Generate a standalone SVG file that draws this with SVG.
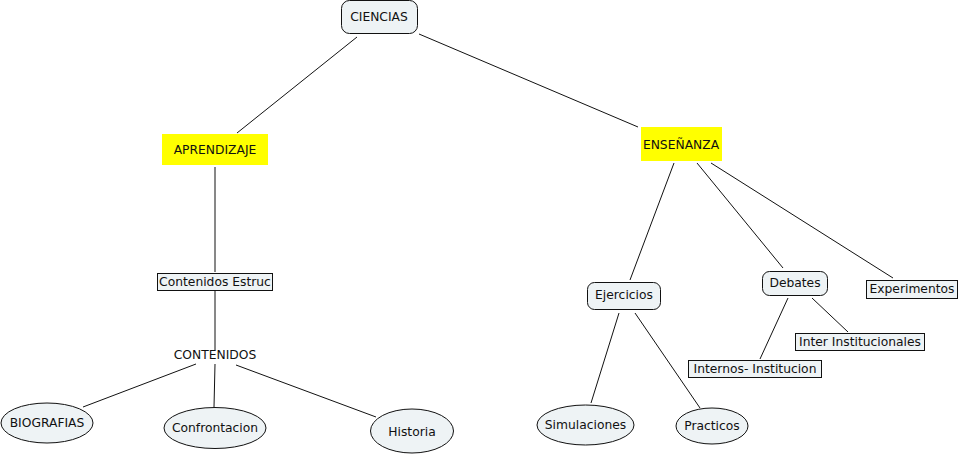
<svg xmlns="http://www.w3.org/2000/svg" width="960" height="456" viewBox="0 0 960 456">
<style>
text{font-family:"DejaVu Sans","Verdana",sans-serif;font-size:12.3px;fill:#111;text-anchor:middle;dominant-baseline:central}
.rr{fill:#eef3f5;stroke:#111;stroke-width:1}
.bx{fill:#eef3f5;stroke:#111;stroke-width:1}
.ye{fill:#ffff00;stroke:none}
.el{fill:#eef3f5;stroke:#111;stroke-width:1}
.c line{stroke:#111;stroke-width:1}
</style>
<rect width="960" height="456" fill="#fff"/>
<g class="c" id="connectors">
<line x1="357" y1="37" x2="237" y2="133"/>
<line x1="419" y1="34" x2="638" y2="127"/>
<line x1="215" y1="167" x2="215" y2="272"/>
<line x1="215" y1="291" x2="215" y2="350"/>
<line x1="196" y1="364" x2="83" y2="407"/>
<line x1="215" y1="364" x2="214" y2="407"/>
<line x1="236" y1="365" x2="376" y2="417"/>
<line x1="674" y1="163" x2="630" y2="280"/>
<line x1="697" y1="163" x2="783" y2="268"/>
<line x1="711" y1="163" x2="893" y2="278"/>
<line x1="619" y1="313" x2="591" y2="403"/>
<line x1="635" y1="313" x2="700" y2="408"/>
<line x1="788" y1="298" x2="760" y2="359"/>
<line x1="812" y1="298" x2="848" y2="332"/>
</g>
<g id="ciencias"><rect class="rr" x="341.5" y="0.5" width="76" height="33" rx="8"/><text x="379" y="17">CIENCIAS</text></g>
<g id="aprendizaje"><rect class="ye" x="162" y="134" width="106" height="31"/><text x="215" y="150">APRENDIZAJE</text></g>
<g id="ensenanza"><rect class="ye" x="641" y="127" width="81" height="34"/><text x="681" y="145">ENSEÑANZA</text></g>
<g id="contenidos-estruc"><rect class="bx" x="157.5" y="273.5" width="115" height="17"/><text x="215" y="282">Contenidos Estruc</text></g>
<g id="contenidos"><text x="215" y="355">CONTENIDOS</text></g>
<g id="biografias"><ellipse class="el" cx="47" cy="423" rx="46" ry="20"/><text x="47" y="423">BIOGRAFIAS</text></g>
<g id="confrontacion"><ellipse class="el" cx="215" cy="428" rx="51" ry="20.5"/><text x="215" y="428">Confrontacion</text></g>
<g id="historia"><ellipse class="el" cx="412" cy="431" rx="41.5" ry="22"/><text x="412" y="432">Historia</text></g>
<g id="ejercicios"><rect class="rr" x="587.5" y="282.5" width="73" height="27" rx="7"/><text x="624" y="295">Ejercicios</text></g>
<g id="debates"><rect class="rr" x="762.5" y="271.5" width="65" height="24" rx="7"/><text x="795" y="283">Debates</text></g>
<g id="experimentos"><rect class="bx" x="866.5" y="280.5" width="91" height="18"/><text x="912" y="289">Experimentos</text></g>
<g id="inter-institucionales"><rect class="bx" x="795.5" y="333.5" width="129" height="17"/><text x="860" y="342">Inter Institucionales</text></g>
<g id="internos-institucion"><rect class="bx" x="688.5" y="360.5" width="133" height="17"/><text x="755" y="369">Internos- Institucion</text></g>
<g id="simulaciones"><ellipse class="el" cx="585.5" cy="425" rx="48.5" ry="20"/><text x="585.5" y="425">Simulaciones</text></g>
<g id="practicos"><ellipse class="el" cx="712" cy="426" rx="36" ry="18"/><text x="712" y="426">Practicos</text></g>
</svg>
